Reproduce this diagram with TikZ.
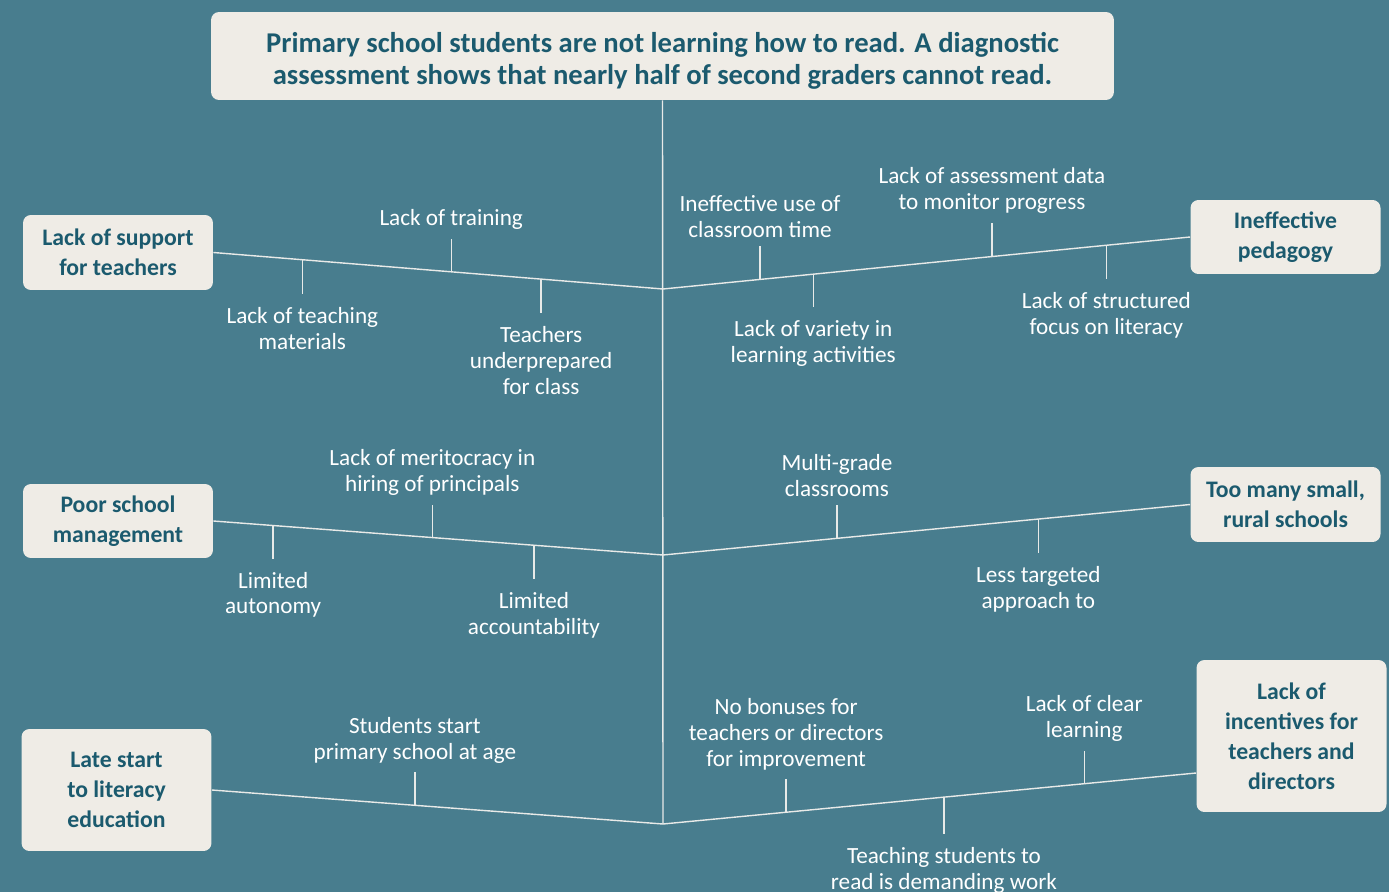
\documentclass[tikz,border=0pt]{standalone}
\usepackage{fontspec}
\setmainfont{Carlito}
\usetikzlibrary{calc}
\definecolor{bgteal}{RGB}{72,125,142}
\definecolor{boxcream}{RGB}{239,236,230}
\definecolor{inkteal}{RGB}{27,90,110}
\definecolor{linegray}{RGB}{232,234,232}
\tikzset{
  causebox/.style={fill=boxcream, rounded corners=4.5pt, align=center, text=inkteal,
    font=\bfseries\fontsize{13.5}{17}\selectfont, minimum width=3.8cm, inner sep=0pt},
  cause/.style={text=white, align=center, font=\fontsize{13.2}{14.7}\selectfont, inner sep=3pt},
  belowcause/.style={anchor=north, yshift=-4.5pt},
  abovecause/.style={anchor=south, yshift=2pt},
  bone/.style={draw=linegray, line width=0.8pt},
}
\begin{document}
\begin{tikzpicture}[x=0.02cm, y=-0.02cm, line join=round]
				\fill[bgteal] (0,0) rectangle (1389,892);
				\useasboundingbox (0,0) rectangle (1389,892);
				% problem and main causes
				\node[causebox, minimum width=18.06cm, minimum height=1.76cm, font=\bfseries\fontsize{16.3}{18.2}\selectfont] (top) at (662.5,56)
					{\rule{0pt}{16.5pt}Primary school students are not learning how to read. A diagnostic\\assessment shows that nearly half of second graders cannot read.};
				\node[causebox, minimum height=1.5cm] (sup) at (118,252.5) {Lack of support\\for teachers};
				\node[causebox, minimum height=1.48cm] (ped) at (1285.5,237) {Ineffective\\pedagogy};
				\node[causebox, minimum height=1.48cm] (mgmt) at (118,521) {Poor school\\management};
				\node[causebox, minimum height=1.5cm] (rural) at (1285.5,504.5) {Too many small,\\rural schools};
				\node[causebox, minimum height=2.44cm] (late) at (116.5,790) {Late start\\to literacy\\education};
				\node[causebox, minimum height=3.04cm] (inc) at (1291.5,736) {Lack of\\incentives for\\teachers and\\directors};
				\coordinate (j1) at (663,289);
				\coordinate (j2) at (663,555);
				\coordinate (j3) at (663,824);
				\coordinate (incw) at ($(inc.west)+(0,37)$);
				% spine and bones
				\draw[bone] (top.south)--(j3);
				\draw[bone] (sup.east)--(j1)--(ped.west);
				\draw[bone] (mgmt.east)--(j2)--(rural.west);
				\draw[bone] (late.east)--(j3)--(incw);
				% sub-causes
				\foreach \s/\e/\t/\h/\an/\n/\txt in {
					sup.east/j1/0.198/34/belowcause/tmat/{Lack of teaching\\materials},
					sup.east/j1/0.529/-33/abovecause/ttrain/{Lack of training},
					sup.east/j1/0.729/34/belowcause/tprep/{Teachers\\underprepared\\for class},
					j1/ped.west/0.184/-33/abovecause/ttime/{Ineffective use of\\classroom time},
					j1/ped.west/0.285/33/belowcause/tvar/{Lack of variety in\\learning activities},
					j1/ped.west/0.624/-34/abovecause/tdata/{Lack of assessment data\\to monitor progress},
					j1/ped.west/0.841/34/belowcause/tfocus/{Lack of structured\\focus on literacy},
					mgmt.east/j2/0.133/33/belowcause/tauto/{Limited\\autonomy},
					mgmt.east/j2/0.487/-33/abovecause/tmerit/{Lack of meritocracy in\\hiring of principals},
					mgmt.east/j2/0.713/34/belowcause/tacc/{Limited\\accountability},
					j2/rural.west/0.330/-33/abovecause/tmulti/{Multi-grade\\classrooms},
					j2/rural.west/0.712/34/belowcause/ttarget/{Less targeted\\approach to},
					late.east/j3/0.450/-33/abovecause/tage/{Students start\\primary school at age},
					j3/incw/0.231/-33/abovecause/tbonus/{No bonuses for\\teachers or directors\\for improvement},
					j3/incw/0.527/37/belowcause/tdemand/{Teaching students to\\read is demanding work},
					j3/incw/0.790/-33/abovecause/tclear/{Lack of clear\\learning}}
				{
					\coordinate (\n-a) at ($(\s)!\t!(\e)$);
					\coordinate (\n-b) at ($(\n-a)+(0,\h)$);
					\draw[bone] (\n-a)--(\n-b);
					\node[cause, \an] (\n) at (\n-b) {\txt};
				}
			\end{tikzpicture}
\end{document}
